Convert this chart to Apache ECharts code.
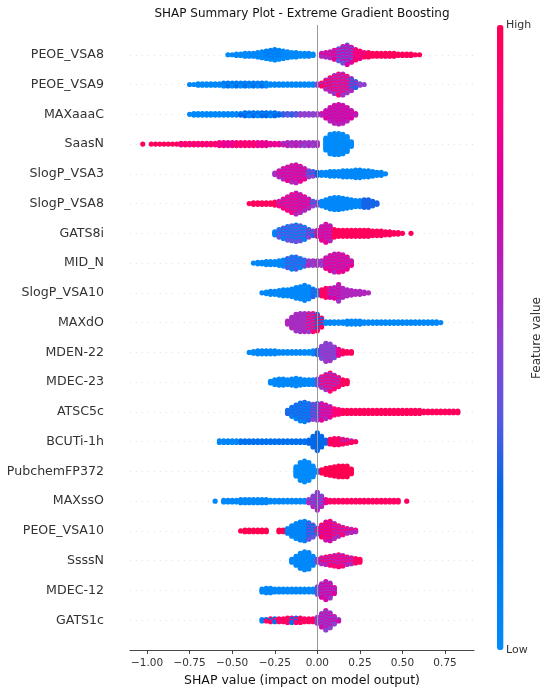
<!DOCTYPE html>
<html>
<head>
<meta charset="utf-8">
<script src="https://cdn.jsdelivr.net/npm/echarts@6/dist/echarts.min.js"></script>
<style>
  html, body { margin: 0; padding: 0; background: #fff; }
  #chart { width: 550px; height: 693px; }
</style>
</head>
<body>
<div id="chart"></div>
<script>
// features, top to bottom
const features = [
  'PEOE_VSA8', 'PEOE_VSA9', 'MAXaaaC', 'SaasN', 'SlogP_VSA3', 'SlogP_VSA8', 'GATS8i',
  'MID_N', 'SlogP_VSA10', 'MAXdO', 'MDEN-22', 'MDEC-23', 'ATSC5c', 'BCUTi-1h',
  'PubchemFP372', 'MAXssO', 'PEOE_VSA10', 'SsssN', 'MDEC-12', 'GATS1c'
];

// SHAP values are binned every 0.025; each feature lists how many samples fall in each bin
const binStep = 0.025;
const binStart = [
  -0.525, -0.75, -0.75, -1.025, -0.25, -0.4, -0.25, -0.375, -0.325, -0.175,
  -0.4, -0.275, -0.175, -0.575, -0.125, -0.6, -0.45, -0.15, -0.325, -0.325
];
const binCounts = [
  [1,1,2,2,3,3,3,4,5,6,7,8,7,6,5,4,4,3,3,3,2,0,3,4,5,7,9,12,14,11,8,6,4,4,3,3,3,3,3,3,2,2,2,2,1,1],
  [1,1,2,2,2,2,2,2,3,3,3,3,3,3,3,3,3,3,3,2,2,2,2,2,2,2,2,2,2,2,2,3,7,10,13,15,15,12,9,5,2,1],
  [1,2,2,2,2,2,2,2,2,2,2,2,2,3,3,3,3,3,3,3,3,2,2,2,2,2,2,2,2,2,2,2,6,10,13,14,13,10,6,2],
  [1,0,1,1,1,1,1,1,1,2,2,2,2,2,2,2,2,2,3,3,3,3,3,3,3,3,3,3,3,3,2,2,2,2,3,3,3,3,3,3,3,3,0,9,14,15,15,14,11,4],
  [2,5,8,10,12,13,11,8,5,4,3,3,3,4,4,4,5,5,5,6,6,5,5,4,3,3,1],
  [1,2,2,2,2,2,3,4,7,10,13,15,13,10,7,4,3,4,6,8,9,9,8,7,6,5,5,6,6,4,2],
  [3,6,8,10,11,12,11,9,6,4,5,10,13,11,6,5,5,5,5,5,5,5,5,4,4,4,3,3,2,2,1,0,1],
  [1,2,2,3,3,3,4,5,7,9,9,7,5,4,4,4,4,8,11,13,13,12,9,4],
  [1,2,3,3,4,5,5,6,8,9,11,9,6,4,5,7,7,8,12,7,5,4,3,3,2,1],
  [3,8,12,13,13,13,13,12,7,2,2,2,2,2,3,3,3,3,2,2,2,2,2,2,2,2,2,2,2,2,2,2,2,2,2,2,1],
  [1,2,3,3,3,3,3,2,2,2,2,2,2,2,2,3,4,9,13,12,8,5,3,2,2],
  [2,4,5,5,4,5,6,5,4,4,4,5,8,11,13,10,7,4,3],
  [3,7,10,13,14,12,11,12,12,10,8,5,4,3,3,3,3,3,3,3,3,3,3,3,3,3,3,3,3,3,3,3,2,2,2,2,2,2,2,2,2],
  [2,2,2,2,2,2,2,2,2,2,2,2,2,2,2,2,2,2,2,2,2,3,8,13,8,3,4,5,5,4,3,2,1],
  [7,13,15,13,8,2,3,5,6,7,8,8,8,4],
  [1,0,2,2,2,2,3,3,3,3,3,3,3,2,2,2,2,2,2,2,2,2,3,8,13,8,3,2,2,2,2,2,2,2,2,2,2,2,2,2,2,2,2,2,0,1],
  [1,2,2,2,2,2,2,0,0,2,2,4,8,11,13,14,12,9,5,9,13,14,11,8,6,4,3,2],
  [3,7,11,13,12,7,3,5,6,7,8,9,8,6,5,4,3],
  [3,4,4,3,3,3,3,3,3,3,3,3,3,6,10,13,11,5],
  [2,2,3,3,3,3,4,4,4,4,3,3,3,5,10,14,11,6,2]
];

// feature value level (0 = low, 1 = high) from a SHAP value onward; a third entry marks mixed samples
const colorBreaks = [
  [[-0.525, 0.02], [-0.3, 0.02, 0.15], [-0.2, 0.02], [0.025, 0.6, 0.8], [0.125, 0.4, 0.75], [0.225, 0.8, 0.95], [0.3, 0.97]],
  [[-0.75, 0.03], [-0.55, 0.03, 0.2], [-0.3, 0.03], [0.0, 0.5], [0.025, 0.6, 0.95], [0.1, 0.55, 0.9], [0.2, 0.6, 0.3], [0.25, 0.5]],
  [[-0.75, 0.03], [-0.45, 0.05, 0.25], [-0.3, 0.25, 0.1], [-0.2, 0.4, 0.3], [-0.1, 0.5], [0.025, 0.62, 0.75]],
  [[-1.025, 0.97], [-0.8, 0.85, 0.95], [-0.55, 0.8], [-0.475, 0.95, 0.85], [-0.35, 0.8], [-0.2, 0.65, 0.55], [-0.075, 0.5, 0.6], [0.025, 0.0]],
  [[-0.25, 0.55], [-0.225, 0.8, 0.6], [-0.05, 0.5, 0.3], [0.0, 0.25], [0.025, 0.03]],
  [[-0.4, 0.97], [-0.225, 0.85, 0.6], [-0.1, 0.6, 0.8], [-0.025, 0.5, 0.3], [0.025, 0.03], [0.275, 0.28]],
  [[-0.25, 0.1], [-0.225, 0.4, 0.1], [-0.05, 0.3, 0.5], [0.0, 0.8, 0.6], [0.1, 0.97]],
  [[-0.375, 0.03], [-0.175, 0.35, 0.1], [-0.05, 0.6, 0.5], [0.05, 0.8, 0.6]],
  [[-0.325, 0.03], [-0.025, 0.1, 0.3], [0.025, 0.95], [0.075, 0.75, 0.55], [0.15, 0.6]],
  [[-0.175, 0.6], [-0.15, 0.6, 0.55], [-0.05, 0.9, 0.5], [0.0, 0.95, 0.2], [0.05, 0.03]],
  [[-0.4, 0.03], [0.0, 0.3], [0.025, 0.55, 0.45], [0.125, 0.8], [0.15, 0.97]],
  [[-0.275, 0.03], [0.0, 0.4], [0.025, 0.9, 0.55], [0.15, 0.97]],
  [[-0.175, 0.3, 0.1], [-0.025, 0.5, 0.3], [0.025, 0.6, 0.8], [0.1, 0.9], [0.15, 0.97]],
  [[-0.575, 0.05], [-0.45, 0.2], [-0.05, 0.25], [0.075, 0.95], [0.15, 0.95, 0.6]],
  [[-0.125, 0.0], [0.025, 1.0]],
  [[-0.6, 0.03], [-0.05, 0.6, 0.4], [0.05, 0.8], [0.075, 0.95]],
  [[-0.45, 1.0], [-0.175, 0.1, 0.03], [-0.05, 0.2, 0.4], [0.0, 0.4, 0.9], [0.025, 0.7, 0.95], [0.1, 0.6, 0.9]],
  [[-0.15, 0.03], [0.0, 0.5], [0.025, 0.95, 0.6], [0.075, 0.6, 0.9], [0.225, 0.95]],
  [[-0.325, 0.03], [0.0, 0.4], [0.025, 0.55, 0.75]],
  [[-0.325, 0.1], [-0.3, 0.95, 0.2], [-0.225, 0.95], [-0.15, 0.2, 0.9], [-0.1, 0.95], [0.0, 0.5], [0.025, 0.5, 0.7]]
];

const xTicks = [-1, -0.75, -0.5, -0.25, 0, 0.25, 0.5, 0.75];

const FONT = 'DejaVu Sans';
const dotGap = 0.05; // vertical spacing of stacked dots, in row units

function levelAt(breaks, x, j) {
  let seg = breaks[0];
  breaks.forEach(b => { if (x >= b[0] - 1e-9) seg = b; });
  return seg.length > 2 && j % 2 ? seg[2] : seg[1];
}

// beeswarm: stack the samples of each bin around the feature's row
const points = [];
features.forEach((name, row) => {
  binCounts[row].forEach((n, k) => {
    const x = +(binStart[row] + k * binStep).toFixed(3);
    for (let j = 0; j < n; j++) {
      points.push([x, row + (j - (n - 1) / 2) * dotGap, levelAt(colorBreaks[row], x, j + k)]);
    }
  });
});

const chart = echarts.init(document.getElementById('chart'));
chart.setOption({
  animation: false,
  grid: { left: 130, right: 76, top: 25, bottom: 43 },
  xAxis: {
    type: 'value', min: -1.1, max: 0.92,
    name: 'SHAP value (impact on model output)',
    nameLocation: 'middle', nameGap: 22,
    nameTextStyle: { fontFamily: FONT, fontSize: 12.5, color: '#111' },
    axisLine: { onZero: false, lineStyle: { color: '#333', width: 0.9 } },
    axisTick: { customValues: xTicks, length: 4, lineStyle: { color: '#333', width: 0.9 } },
    axisLabel: {
      customValues: xTicks, margin: 8, fontFamily: FONT, fontSize: 10.5, color: '#333',
      formatter: v => (v < 0 ? '\u2212' : '') + Math.abs(v).toFixed(2)
    },
    splitLine: { show: false }
  },
  yAxis: {
    type: 'value', inverse: true, min: -1, max: 20, interval: 1,
    axisLine: { show: false }, axisTick: { show: false },
    axisLabel: {
      margin: 26, fontFamily: FONT, fontSize: 12.6, color: '#333',
      formatter: v => features[v] || ''
    },
    splitLine: {
      show: true, showMinLine: false, showMaxLine: false,
      lineStyle: { color: '#cccccc', width: 0.6, type: [1, 5] }
    }
  },
  visualMap: {
    type: 'continuous', min: 0, max: 1, dimension: 2, seriesIndex: 0,
    orient: 'vertical', left: 497, top: 25, itemWidth: 6.5, itemHeight: 625,
    padding: 0, calculable: false, hoverLink: false, text: null, showLabel: false,
    inRange: {
      color: ['#008bfb', '#007ef5', '#0068ea', '#5a58e2', '#8e40d0', '#b81fb8',
              '#dd00a2', '#ff007f', '#ff0051']
    }
  },
  graphic: [
    { type: 'text', x: 302, y: 14, style: { text: 'SHAP Summary Plot - Extreme Gradient Boosting',
      align: 'center', verticalAlign: 'middle', font: '12px "DejaVu Sans"', fill: '#111' } },
    { type: 'text', x: 506, y: 25, style: { text: 'High', align: 'left', verticalAlign: 'middle',
      font: '11px "DejaVu Sans"', fill: '#333' } },
    { type: 'text', x: 506, y: 650, style: { text: 'Low', align: 'left', verticalAlign: 'middle',
      font: '11px "DejaVu Sans"', fill: '#333' } },
    { type: 'text', x: 537, y: 338, rotation: Math.PI / 2, style: { text: 'Feature value',
      align: 'center', verticalAlign: 'middle', font: '12px "DejaVu Sans"', fill: '#333' } }
  ],
  series: [
    {
      type: 'scatter', data: points, symbolSize: 5.2, z: 3,
      progressive: 0, itemStyle: { opacity: 1 }
    },
    {
      type: 'scatter', data: [], z: 1,
      markLine: {
        silent: true, symbol: 'none', label: { show: false },
        lineStyle: { color: '#999', width: 1, type: 'solid' },
        data: [{ xAxis: 0 }]
      }
    }
  ]
});
</script>
</body>
</html>
